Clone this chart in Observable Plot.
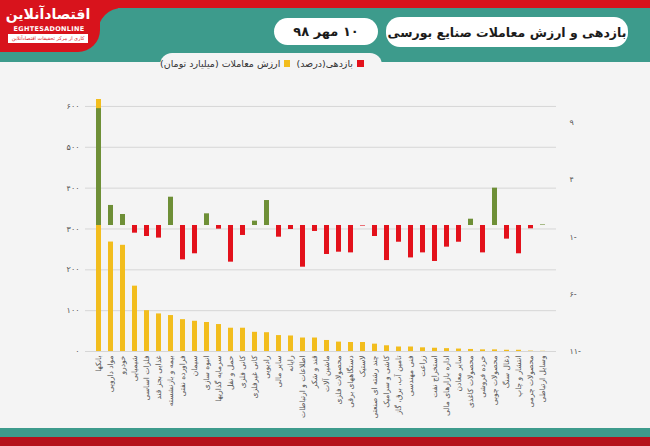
<!DOCTYPE html>
<html>
<head>
<meta charset="utf-8">
<script src="https://cdn.jsdelivr.net/npm/d3@7"></script>
<script src="https://cdn.jsdelivr.net/npm/@observablehq/plot@0.6"></script>
<style>
  html, body { margin: 0; padding: 0; }
  body { width: 650px; height: 446px; overflow: hidden; font-family: "DejaVu Sans", sans-serif; }
  #wrap { position: relative; width: 650px; height: 446px; background: #f4f4f4; overflow: hidden; }
  .abs { position: absolute; }
  #chart { position: absolute; left: 0; top: 80px; }
  .pill { background: #fff; border-radius: 14px; color: #1b1b1b; font-weight: bold; direction: rtl;
          display: flex; align-items: center; justify-content: center; white-space: nowrap; }
  .leg { direction: rtl; font-size: 9.5px; color: #333; white-space: nowrap; display: flex; align-items: center; }
  .sw { display: inline-block; width: 7px; height: 7px; margin-left: 4px; }
</style>
</head>
<body>
<div id="wrap">
  <div class="abs" style="left:0;top:0;width:650px;height:62px;background:#3d9b8c"></div>
  <div class="abs" style="left:0;top:0;width:650px;height:8px;background:#d8131c"></div>
  <div class="abs" style="left:0;top:0;width:118px;height:30px;background:#d8131c"></div>
  <div class="abs" style="left:98px;top:8px;width:552px;height:54px;background:#3d9b8c;border-top-left-radius:24px"></div>
  <div class="abs" style="left:0;top:0;width:100px;height:52px;background:#d8131c;border-bottom-right-radius:22px"></div>
  <div class="abs" style="left:4px;top:5px;width:88px;text-align:center;color:#fff;font-weight:bold;font-size:14px;direction:rtl;line-height:18px;white-space:nowrap">اقتصادآنلاین</div>
  <div class="abs" style="left:6px;top:25px;width:86px;text-align:center;color:#fff;font-weight:bold;font-size:6.5px;letter-spacing:0.3px">EGHTESADONLINE</div>
  <div class="abs" style="left:8px;top:34px;width:80px;height:9px;background:#fff;color:#d8131c;font-size:5px;text-align:center;line-height:9px;direction:rtl;white-space:nowrap;overflow:hidden">کاری از مرکز تحقیقات اقتصادآنلاین</div>
  <div class="abs pill" style="left:386px;top:17px;width:242px;height:30px;font-size:12.5px">بازدهی و ارزش معاملات صنایع بورسی</div>
  <div class="abs pill" style="left:274px;top:18px;width:104px;height:27px;font-size:13px">۱۰ مهر ۹۸</div>
  <div class="abs" style="left:160px;top:53px;width:222px;height:16px;background:#f4f4f4;border-radius:12px 12px 0 0"></div>
  <div class="abs leg" style="left:296px;top:58px;width:68px;justify-content:flex-start"><span class="sw" style="background:#e3111b"></span>بازدهی(درصد)</div>
  <div class="abs leg" style="left:160px;top:58px;width:130px;justify-content:flex-start"><span class="sw" style="background:#f2bd1d"></span>ارزش معاملات (میلیارد تومان)</div>
  <div class="abs" style="left:0;top:428px;width:650px;height:9px;background:#3d9b8c"></div>
  <div class="abs" style="left:0;top:437px;width:650px;height:9px;background:#b5121b"></div>
  <div id="chart"></div>
</div>
<script>
const categories = [
  "بانکها", "مواد دارویی", "خودرو", "شیمیایی", "فلزات اساسی", "غذایی بجز قند",
  "بیمه و بازنشسته", "فراورده نفتی", "سیمان", "انبوه سازی", "سرمایه گذاریها", "حمل و نقل",
  "کانی فلزی", "کانی غیرفلزی", "رادیویی", "سایر مالی", "رایانه", "اطلاعات و ارتباطات",
  "قند و شکر", "ماشین آلات", "محصولات فلزی", "دستگاههای برقی", "لاستیک", "چند رشته ای صنعتی",
  "کاشی و سرامیک", "تامین آب، برق، گاز", "فنی مهندسی", "زراعت", "استخراج نفت", "اداره بازارهای مالی",
  "سایر معادن", "محصولات کاغذی", "خرده فروشی", "محصولات چوبی", "ذغال سنگ", "انتشار و چاپ",
  "محصولات چرمی", "وسایل ارتباطی"
];
const tradeValue = [617, 268, 260, 160, 100, 92, 88, 78, 74, 71, 66, 57, 57, 47, 46, 39, 38, 33, 33, 27,
  23, 22, 22, 18, 14, 11, 11, 9, 8, 7, 6, 5, 4, 4, 3, 3, 1, 0.5];
const returnPct = [10.2, 1.75, 0.96, -0.67, -0.96, -1.1, 2.47, -3.0, -2.47, 1.02, -0.32, -3.2, -0.87,
  0.38, 2.18, -1.02, -0.35, -3.64, -0.52, -2.53, -2.33, -2.39, -0.05, -0.96, -3.06, -1.46, -2.83,
  -2.39, -3.14, -1.89, -1.46, 0.55, -2.39, 3.26, -1.19, -2.47, -0.29, 0.05];
const leftTicks = [0, 100, 200, 300, 400, 500, 600];
const rightTicks = [9, 4, -1, -6, -11];
const rightLabels = ["۹", "۴", "۱-", "۶-", "۱۱-"];

const vMax = 617, rMin = -11, rMax = 11;
const conv = r => (r - rMin) * vMax / (rMax - rMin);
const fa = n => String(n).replace(/\d/g, d => "۰۱۲۳۴۵۶۷۸۹"[d]);

const data = categories.map((c, i) => ({cat: c, value: tradeValue[i], ret: returnPct[i]}));
const rightMap = new Map(rightTicks.map((t, i) => [conv(t), rightLabels[i]]));

const chart = Plot.plot({
  width: 650, height: 350,
  marginLeft: 85, marginRight: 94, marginTop: 19, marginBottom: 79,
  style: {background: "transparent", fontFamily: "DejaVu Sans, sans-serif", fontSize: "8px", color: "#555"},
  x: {domain: categories, paddingInner: 0.58, paddingOuter: 0.785, align: 0.5, label: null},
  y: {domain: [0, vMax], label: null},
  color: {type: "identity"},
  marks: [
    Plot.gridY(leftTicks, {stroke: "#d6d6d6", strokeOpacity: 1}),
    Plot.barY(data, {x: "cat", y: "value", fill: "#f2bd1d"}),
    Plot.barY(data, {x: "cat", y1: () => conv(0), y2: d => conv(d.ret), fill: d => d.ret >= 0 ? "#6e8f37" : "#e3111b"}),
    Plot.axisY(leftTicks, {anchor: "left", tickSize: 0, tickPadding: 6, tickFormat: fa, label: null, fill: "#555"}),
    Plot.axisY(rightTicks.map(conv), {anchor: "right", tickSize: 0, tickPadding: 13, tickFormat: v => rightMap.get(v), label: null, fill: "#555"}),
    Plot.axisX({tickRotate: -90, tickSize: 0, tickPadding: 4, label: null, fontSize: 7.5, fill: "#555"})
  ]
});
document.getElementById("chart").appendChild(chart);
</script>
</body>
</html>
